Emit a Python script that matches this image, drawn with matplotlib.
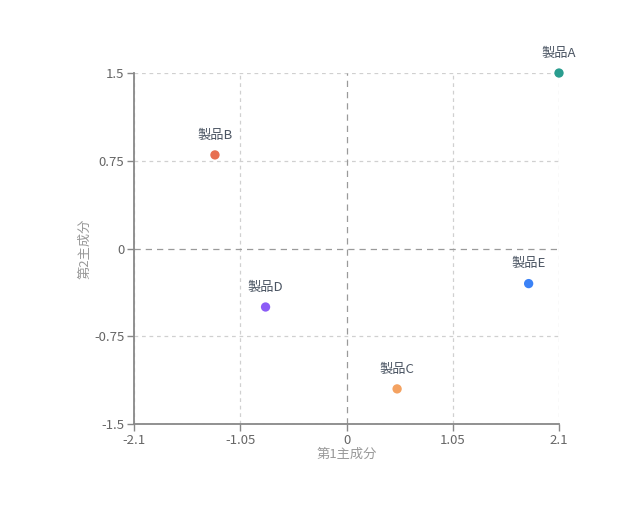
import matplotlib
matplotlib.use("Agg")
import matplotlib.pyplot as plt

plt.rcParams['font.family'] = ['Noto Sans CJK JP', 'DejaVu Sans']

products = ['製品A', '製品B', '製品C', '製品D', '製品E']
pc1 = [2.1, -1.3, 0.5, -0.8, 1.8]
pc2 = [1.5, 0.8, -1.2, -0.5, -0.3]
colors = ['#2a9d8f', '#e76f51', '#f4a261', '#8b5cf6', '#3b82f6']
xticks = [-2.1, -1.05, 0, 1.05, 2.1]
yticks = [-1.5, -0.75, 0, 0.75, 1.5]
xtick_labels = ['-2.1', '-1.05', '0', '1.05', '2.1']
ytick_labels = ['-1.5', '-0.75', '0', '0.75', '1.5']

fig = plt.figure(figsize=(6.33, 5.28), dpi=100)
ax = fig.add_axes([0.2117, 0.197, 0.6714, 0.6647])

ax.set_xlim(-2.1, 2.1)
ax.set_ylim(-1.5, 1.5)
ax.set_xticks(xticks)
ax.set_xticklabels(xtick_labels)
ax.set_yticks(yticks)
ax.set_yticklabels(ytick_labels)

# grid
for x in xticks:
    if x != 0:
        ax.axvline(x, color='#d0d0d0', lw=0.9, ls=(0, (3, 3)), zorder=0)
for y in yticks:
    if y != 0:
        ax.axhline(y, color='#d0d0d0', lw=0.9, ls=(0, (3, 3)), zorder=0)
# zero lines
ax.axvline(0, color='#9a9a9a', lw=0.9, ls=(0, (5, 4)), zorder=1)
ax.axhline(0, color='#9a9a9a', lw=0.9, ls=(0, (5, 4)), zorder=1)

ax.scatter(pc1, pc2, c=colors, s=45, zorder=3, clip_on=False, edgecolors='none')
for name, x, y in zip(products, pc1, pc2):
    ax.annotate(name, (x, y), xytext=(0, 9.5), textcoords='offset points',
                ha='center', va='bottom', fontsize=9.5, color='#4b5563')

for s in ['top', 'right']:
    ax.spines[s].set_visible(False)
for s in ['left', 'bottom']:
    ax.spines[s].set_color('#888888')
    ax.spines[s].set_linewidth(1.3)

ax.tick_params(axis='both', colors='#888888', labelcolor='#666666', labelsize=9.5,
               length=5, width=1, pad=2)
ax.set_xlabel('第1主成分', fontsize=9.5, color='#999999', labelpad=1)
ax.set_ylabel('第2主成分', fontsize=9.5, color='#999999', labelpad=2)

fig.savefig('out.png', dpi=100)
